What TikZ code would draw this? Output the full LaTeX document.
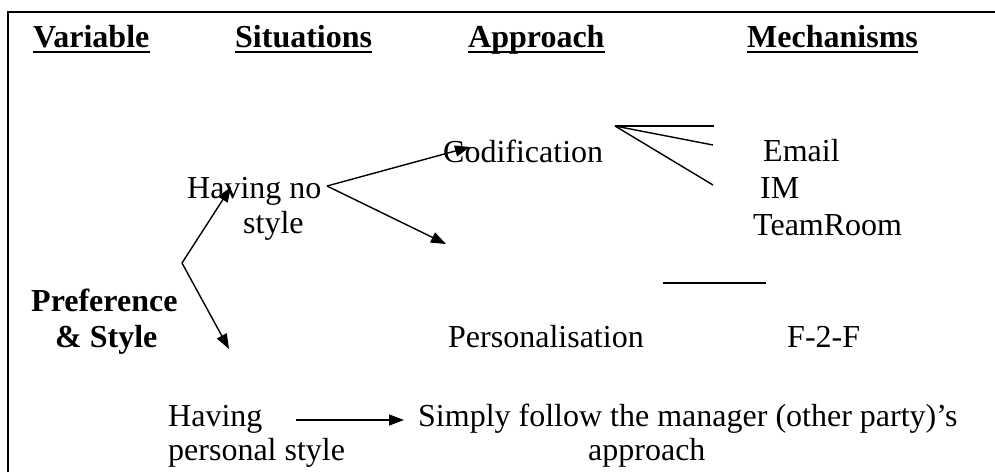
\documentclass[tikz,border=0pt]{standalone}
\usepackage{fontspec}
\setmainfont{Liberation Serif}
\usetikzlibrary{arrows.meta}
\begin{document}
\begin{tikzpicture}[x=1pt,y=-1pt,
  txt/.style={inner sep=0pt,anchor=base west,font=\fontsize{32}{35}\selectfont},
  head/.style={txt,font=\fontsize{32}{35}\selectfont\bfseries},
  arr/.style={line width=1.4pt,-{Triangle[length=15pt,width=11pt]}},
  plain/.style={line width=1.4pt}]
\useasboundingbox (0,0) rectangle (995,472);
% frame (runs off the right and bottom edges)
\draw[line width=2pt] (8,472) -- (8,12) -- (1000,12);

% column headings
\node[head] (hvar) at (33,47) {Variable};
\node[head] (hsit) at (235,47) {Situations};
\node[head] (happ) at (468,47) {Approach};
\node[head] (hmech) at (747,47) {Mechanisms};
\foreach \n in {hvar,hsit,happ,hmech}
  \draw[line width=2pt] ([yshift=-5pt]\n.base west) -- ([yshift=-5pt]\n.base east);

% variable
\node[head] (pref) at (31,311) {Preference};
\node[head] (style) at (55,347) {\&\ Style};

% situations
\node[txt] (nostyle1) at (187,198) {Having no};
\node[txt] (nostyle2) at (243,233) {style};
\node[txt] (pers1) at (168,426) {Having};
\node[txt] (pers2) at (168,460) {personal style};

% approaches
\node[txt] (cod) at (443,162) {Codification};
\node[txt] (perso) at (448,347) {Personalisation};
\node[txt] (follow1) at (418,426) {Simply follow the manager (other party)'s};
\node[txt] (follow2) at (588,460) {approach};

% mechanisms
\node[txt] (email) at (763,161) {Email};
\node[txt] (im) at (760,198) {IM};
\node[txt] (team) at (753,235) {TeamRoom};
\node[txt] (f2f) at (787,347) {F-2-F};

% branching points and free ends
\coordinate (vfork) at (182,263);
\coordinate (toNoStyle) at (231,187);
\coordinate (toPersonal) at (229,349);
\coordinate (sfork) at (327,186);
\coordinate (toCod) at (470,147);
\coordinate (toPerso) at (446,244);
\coordinate (cfork) at (615,126);
\coordinate (c1) at (714,126);
\coordinate (c2) at (713,145);
\coordinate (c3) at (713,185);
\coordinate (pl) at (663,283);
\coordinate (pr) at (766,283);
\coordinate (hfrom) at (296,420);
\coordinate (hto) at (404,420);

\draw[arr] (vfork) -- (toNoStyle);
\draw[arr] (vfork) -- (toPersonal);
\draw[arr] (sfork) -- (toCod);
\draw[arr] (sfork) -- (toPerso);
\draw[plain] (cfork) -- (c1);
\draw[plain] (cfork) -- (c2);
\draw[plain] (cfork) -- (c3);
\draw[plain] (pl) -- (pr);
\draw[arr] (hfrom) -- (hto);
\end{tikzpicture}
\end{document}
